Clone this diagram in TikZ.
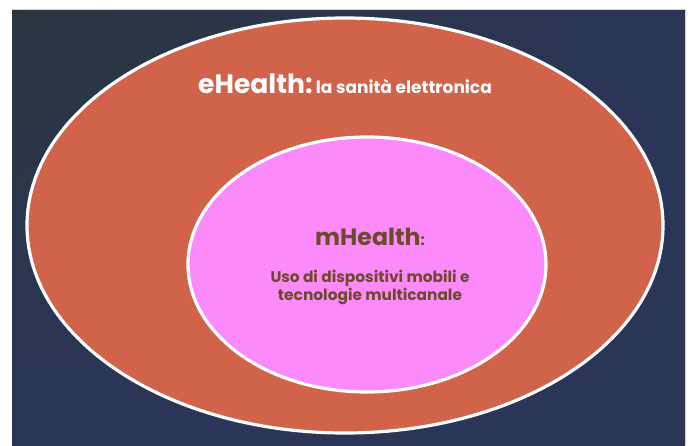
\documentclass[tikz,border=0pt]{standalone}
\usepackage{fontspec}
\setmainfont{Poppins}
\usetikzlibrary{shapes.geometric, shadings}

\definecolor{bgslate}{HTML}{2A363F}
\definecolor{bgnavy}{HTML}{2B3558}
\definecolor{rust}{HTML}{D0634A}
\definecolor{orchid}{HTML}{FD8AFA}
\definecolor{cocoa}{HTML}{6E4A2C}

\tikzset{
	zone/.style={ellipse, draw=white, line width=1.6pt, inner sep=0pt},
}

\begin{document}
\begin{tikzpicture}[x=0.5pt, y=-0.5pt]
	\useasboundingbox (0,0) rectangle (691,445);
	\fill[white] (0,0) rectangle (691,445);
	
	% slide background
	\shade[upper left=bgslate, upper right=bgnavy, lower left=bgnavy, lower right=bgnavy]
		(12,9) rectangle (685,445);
	\draw[gray!35, thin] (12,9) -- (685,9) -- (685,445);
	
	% the two areas
	\node[zone, fill=rust, minimum width=318pt, minimum height=207.5pt] (ehealth) at (345,225.5) {};
	\node[zone, fill=orchid, minimum width=179pt, minimum height=127.5pt] (mhealth) at (367,264.5) {};
	
	\node[anchor=base, text=white, inner sep=0pt] (etitle) at (345,93)
		{{\bfseries\fontsize{13.3}{15}\selectfont eHealth:}\,{\bfseries\fontsize{8.5}{10}\selectfont la sanità elettronica}};
	
	\node[anchor=base, text=cocoa, inner sep=0pt] (mtitle) at (370,245)
		{{\bfseries\fontsize{11.8}{14}\selectfont mHealth}{\bfseries\fontsize{7.5}{9}\selectfont :}};
	\node[anchor=base, text=cocoa, inner sep=0pt, align=center,
		font=\fontsize{7.7}{9}\selectfont\bfseries] (mtext) at (370,300)
		{Uso di dispositivi mobili e\\tecnologie multicanale};
\end{tikzpicture}
\end{document}
